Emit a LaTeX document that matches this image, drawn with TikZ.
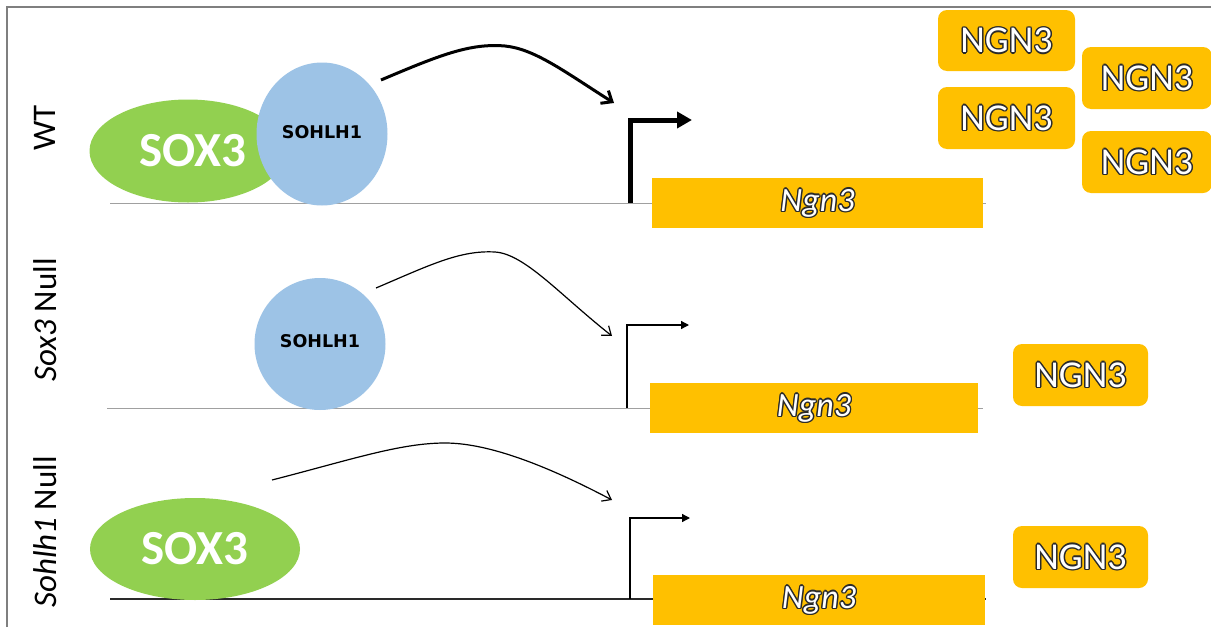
\documentclass[tikz,border=0pt]{standalone}
\usepackage{fontspec}
\setmainfont{Carlito}
\newfontfamily\djv{DejaVu Sans}
\usetikzlibrary{shapes.geometric,arrows.meta}
\definecolor{sxgreen}{HTML}{92D050}
\definecolor{shblue}{HTML}{9DC3E6}
\definecolor{ngyellow}{HTML}{FFC000}
\definecolor{olc}{HTML}{2A2A2A}
\definecolor{framegray}{HTML}{7F7F7F}
\definecolor{linegray}{HTML}{A0A0A0}
\newcommand\olcopy[3]{\rlap{\kern#1\raisebox{#2}{\color{olc}#3}}}
\newcommand\outl[1]{\olcopy{1.4pt}{0pt}{#1}\olcopy{-1.4pt}{0pt}{#1}\olcopy{0pt}{1.4pt}{#1}\olcopy{0pt}{-1.4pt}{#1}\olcopy{1pt}{1pt}{#1}\olcopy{-1pt}{1pt}{#1}\olcopy{1pt}{-1pt}{#1}\olcopy{-1pt}{-1pt}{#1}{\color{white}#1}}
\tikzset{
  x=1pt, y=-1pt,
  sox/.style={ellipse, fill=sxgreen, inner sep=0pt, text=white, font=\fontsize{49}{50}\selectfont\bfseries},
  soh/.style={ellipse, fill=shblue, inner sep=0pt, text=black, font=\djv\fontsize{17.5}{19}\selectfont\bfseries},
  gene/.style={rectangle, fill=ngyellow, inner sep=0pt, font=\fontsize{34}{36}\selectfont\itshape},
  prot/.style={rectangle, rounded corners=9pt, fill=ngyellow, inner sep=0pt, font=\fontsize{38}{40}\selectfont},
  rowlabel/.style={rotate=90, inner sep=0pt, font=\fontsize{33}{36}\selectfont},
  dnaline/.style={draw=linegray, line width=1pt},
  curvearrow/.style={-{Straight Barb[length=8pt,width=12pt]}, line width=1.2pt},
  thickcurve/.style={-{Straight Barb[length=9pt,width=15pt]}, line width=3pt},
  tss/.style={-{Triangle[length=8pt,width=8pt]}, line width=1.3pt},
  thicktss/.style={-{Triangle[length=15pt,width=16pt]}, line width=5pt},
}
\begin{document}
\begin{tikzpicture}
\useasboundingbox (0,0) rectangle (1211,627);
\fill[white] (0,0) rectangle (1211,627);
% frame
\draw[framegray, line width=1.5pt] (7,627) -- (7,7) -- (1211,7);

% row labels
\node[rowlabel] (lwt) at (45,128) {WT};
\node[rowlabel] (lsox) at (45,320) {{\itshape Sox3} Null};
\node[rowlabel] (lsoh) at (45,532) {{\itshape Sohlh1} Null};

% DNA lines
\coordinate (d1a) at (110,203); \coordinate (d1b) at (986,203);
\coordinate (d2a) at (107,408); \coordinate (d2b) at (983,408);
\coordinate (d3a) at (110,599); \coordinate (d3b) at (986,599);
\draw[dnaline] (d1a) -- (d1b);
\draw[dnaline] (d2a) -- (d2b);
\draw[draw=olc, line width=1.5pt] (d3a) -- (d3b);

% ---------- WT ----------
\node[sox, minimum width=197pt, minimum height=103pt] (sox1) at (188,151) {\raisebox{-2pt}{\kern10pt SOX3}};
\node[soh, minimum width=131pt, minimum height=143pt] (soh1) at (322,134) {\raisebox{3pt}{SOHLH1}};
\node[gene, minimum width=331pt, minimum height=50pt] (gene1) at (817.5,203) {\outl{Ngn3}};
\coordinate (t1base) at (630,203);
\coordinate (t1top) at (630,120);
\coordinate (t1tip) at (692,120);
\draw[thicktss] (t1base) -- (t1top) -- (t1tip);
\coordinate (c1s) at (381,80);
\coordinate (c1p) at (505,46);
\coordinate (c1e) at (614,103);
\draw[thickcurve] (c1s) .. controls (440,55) and (470,43) .. (c1p) .. controls (535,49) and (565,72) .. (c1e);
\node[prot, minimum width=137pt, minimum height=61pt] (p1) at (1006.5,40.5) {\outl{NGN3}};
\node[prot, minimum width=130pt, minimum height=62pt] (p2) at (1147,78) {\outl{NGN3}};
\node[prot, minimum width=137pt, minimum height=62pt] (p3) at (1006.5,118) {\outl{NGN3}};
\node[prot, minimum width=130pt, minimum height=62pt] (p4) at (1147,162) {\outl{NGN3}};

% ---------- Sox3 Null ----------
\node[soh, minimum width=131pt, minimum height=132pt] (soh2) at (320,344) {\raisebox{5pt}{SOHLH1}};
\node[gene, minimum width=328pt, minimum height=50pt] (gene2) at (814,408) {\outl{Ngn3}};
\coordinate (t2base) at (627,408);
\coordinate (t2top) at (627,325);
\coordinate (t2tip) at (689,325);
\draw[tss] (t2base) -- (t2top) -- (t2tip);
\coordinate (c2s) at (376,288);
\coordinate (c2p) at (495,252);
\coordinate (c2e) at (612,336);
\draw[curvearrow] (c2s) .. controls (430,265) and (460,250) .. (c2p) .. controls (525,254) and (560,295) .. (c2e);
\node[prot, minimum width=135pt, minimum height=62pt] (p5) at (1080.5,375) {\outl{NGN3}};

% ---------- Sohlh1 Null ----------
\node[sox, minimum width=210pt, minimum height=102pt] (sox3) at (195,549) {SOX3};
\node[gene, minimum width=332pt, minimum height=50pt] (gene3) at (819,600) {\outl{Ngn3}};
\coordinate (t3base) at (630,599);
\coordinate (t3top) at (630,518);
\coordinate (t3tip) at (690,518);
\draw[tss] (t3base) -- (t3top) -- (t3tip);
\coordinate (c3s) at (272,480);
\coordinate (c3p) at (445,443);
\coordinate (c3e) at (612,500);
\draw[curvearrow] (c3s) .. controls (350,460) and (400,443) .. (c3p) .. controls (485,443) and (540,462) .. (c3e);
\node[prot, minimum width=135pt, minimum height=62pt] (p6) at (1080.5,557) {\outl{NGN3}};
\end{tikzpicture}
\end{document}
